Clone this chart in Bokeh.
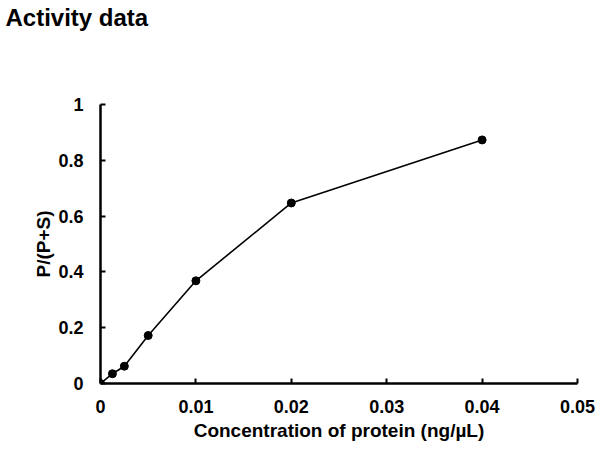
from bokeh.plotting import figure
from bokeh.models import FixedTicker, Range1d
from bokeh.embed import file_html
from bokeh.resources import INLINE

# Data
concentration = [0.0, 0.00125, 0.0025, 0.005, 0.01, 0.02, 0.04]
ratio = [0.0, 0.035, 0.062, 0.172, 0.368, 0.647, 0.873]

x_ticks = [0, 0.01, 0.02, 0.03, 0.04, 0.05]
x_tick_labels = ["0", "0.01", "0.02", "0.03", "0.04", "0.05"]
y_ticks = [0, 0.2, 0.4, 0.6, 0.8, 1.0]
y_tick_labels = ["0", "0.2", "0.4", "0.6", "0.8", "1"]

chart_title = "Activity data"

FONT = "Liberation Sans"

p = figure(width=600, height=453, output_backend="svg", toolbar_location=None,
           x_range=Range1d(0, 0.05), y_range=Range1d(0, 1),
           title=chart_title,
           min_border_left=100, min_border_right=23, min_border_bottom=70, min_border_top=104)

p.title.text_font = FONT
p.title.text_font_size = "24px"
p.title.text_font_style = "bold"
p.title.align = "left"
p.title.vertical_align = "top"
p.title.offset = -95
p.title.standoff = 0
p.title.padding = dict(left=0, right=0, top=0, bottom=72)
p.title.text_color = "black"

p.outline_line_color = None
p.xgrid.grid_line_color = None
p.ygrid.grid_line_color = None

p.xaxis.ticker = FixedTicker(ticks=x_ticks)
p.xaxis.major_label_overrides = {t: l for t, l in zip(x_ticks, x_tick_labels)}
p.yaxis.ticker = FixedTicker(ticks=y_ticks)
p.yaxis.major_label_overrides = {t: l for t, l in zip(y_ticks, y_tick_labels)}

p.xaxis.axis_label = "Concentration of protein (ng/\u00b5L)"
p.yaxis.axis_label = "P/(P+S)"

for ax in (p.xaxis, p.yaxis):
    ax.axis_line_width = 2.5
    ax.axis_line_color = "black"
    ax.major_tick_line_width = 2
    ax.major_tick_line_color = "black"
    ax.major_tick_in = 5
    ax.major_tick_out = 0
    ax.minor_tick_line_color = None
    ax.major_label_text_font = FONT
    ax.major_label_text_font_size = "18px"
    ax.major_label_text_font_style = "bold"
    ax.major_label_text_color = "black"
    ax.axis_label_text_font = FONT
    ax.axis_label_text_font_size = "19px"
    ax.axis_label_text_font_style = "bold"
    ax.axis_label_text_color = "black"

p.xaxis.major_label_standoff = 16
p.xaxis.axis_label_standoff = 4
p.yaxis.major_label_standoff = 17
p.yaxis.axis_label_standoff = 1

p.line(concentration, ratio, line_color="black", line_width=1.6)
p.scatter(concentration, ratio, size=8, fill_color="black", line_color="black")

open("out.html", "w").write(file_html(p, INLINE))
